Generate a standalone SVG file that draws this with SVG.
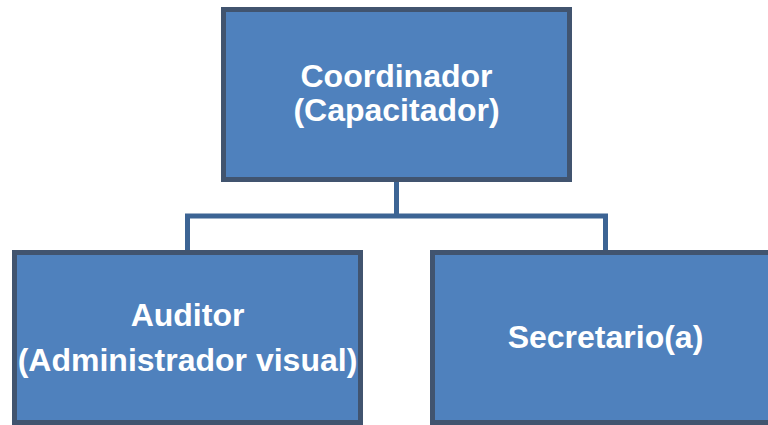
<svg xmlns="http://www.w3.org/2000/svg" width="768" height="425" viewBox="0 0 768 425">
<style>
.box{fill:#4F81BD;stroke:#41546F;stroke-width:5}
.lbl{fill:#FFFFFF;font-family:"Liberation Sans",Arial,sans-serif;font-weight:bold;font-size:32px;text-anchor:middle}
.conn{fill:none;stroke:#3C6494;stroke-width:5}
</style>
<rect width="768" height="425" fill="#FFFFFF"/>
<g id="connectors">
<path class="conn" d="M396.5,182 V216 M187.5,250 V216 H605.5 V250"/>
</g>
<g id="coordinador">
<rect class="box" x="223.5" y="9.5" width="346" height="170"/>
<text class="lbl" x="396.5" y="87">Coordinador</text>
<text class="lbl" x="396.5" y="121">(Capacitador)</text>
</g>
<g id="auditor">
<rect class="box" x="14.5" y="252.5" width="346" height="170"/>
<text class="lbl" x="187.5" y="326">Auditor</text>
<text class="lbl" x="187.5" y="371">(Administrador visual)</text>
</g>
<g id="secretario">
<rect class="box" x="432.5" y="252.5" width="346" height="170"/>
<text class="lbl" x="605.5" y="348">Secretario(a)</text>
</g>
</svg>
